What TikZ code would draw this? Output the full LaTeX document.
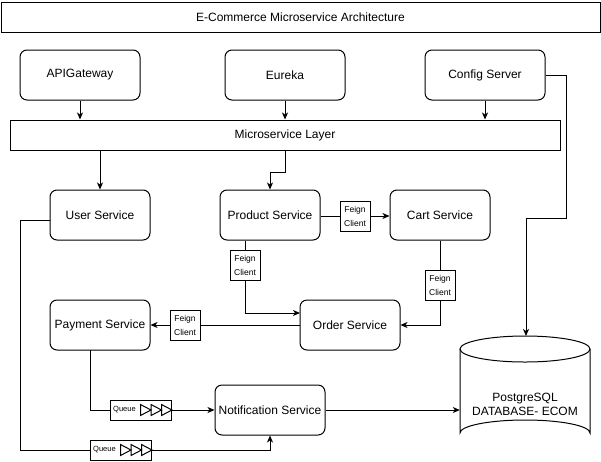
\documentclass[tikz,border=0pt]{standalone}
\usepackage{fontspec}
\setmainfont{Liberation Sans}
\usetikzlibrary{arrows.meta,calc}
\tikzset{
  base/.style={line width=1pt},
  svc/.style={base, draw, rounded corners=7pt, minimum width=100pt, minimum height=50pt, inner sep=0pt, font=\fontsize{12}{14}\selectfont},
  topsvc/.style={svc, minimum width=120pt},
  plainbox/.style={base, draw, inner sep=0pt, font=\fontsize{12}{14}\selectfont},
  fc/.style={base, draw, fill=white, minimum width=30pt, minimum height=30pt, inner sep=0pt, align=center, font=\fontsize{8.5}{14}\selectfont},
  qbox/.style={base, draw, fill=white, minimum width=61pt, minimum height=20pt, inner sep=0pt},
  qtext/.style={inner sep=0pt, anchor=west, font=\fontsize{7.5}{9}\selectfont},
  conn/.style={base},
  arr/.style={base, -{Stealth[length=7pt,width=6pt,inset=2pt]}},
}
\begin{document}
\begin{tikzpicture}[x=1pt,y=-1pt]
\useasboundingbox (0,0) rectangle (601,461);

% title and top row
\node[plainbox, minimum width=599pt, minimum height=30pt] (title) at (300.5,17) {E-Commerce Microservice Architecture};
\node[topsvc] (api) at (80,75) {APIGateway};
\node[topsvc] (eur) at (285,75) {Eureka};
\node[topsvc] (cfg) at (485,75) {Config Server};
\node[plainbox, minimum width=550pt, minimum height=30pt] (layer) at (285,135) {Microservice Layer};

% services
\node[svc] (user) at (100,215) {User Service};
\node[svc] (prod) at (270,215) {Product Service};
\node[svc] (cart) at (440,215) {Cart Service};
\node[svc] (pay) at (100,325) {Payment Service};
\node[svc] (order) at (350,325) {Order Service};
\node[svc, minimum width=110pt] (notif) at (270,410) {Notification Service};

% database
\node[minimum width=130pt, minimum height=110pt, inner sep=0pt] (db) at (525,391) {};
\draw[base] (460,349) -- (460,433) arc[start angle=180, end angle=360, x radius=65, y radius=13] -- (590,349);
\draw[base] (525,349) ellipse [x radius=65, y radius=13];
\node[align=center, inner sep=0pt, font=\fontsize{12}{14}\selectfont] (dbtext) at (525,404) {PostgreSQL\\DATABASE- ECOM};

% feign client labels
\node[fc] (fc1) at (355,216) {Feign\\Client};
\node[fc] (fc2) at (440,285) {Feign\\Client};
\node[fc] (fc3) at (245,265) {Feign\\Client};
\node[fc] (fc4) at (185,325) {Feign\\Client};

% queues
\node[qbox] (q1) at (141,410) {};
\node[qtext] (q1t) at ($(q1.west)+(3,0)$) {Queue};
\node[qbox] (q2) at (121,450) {};
\node[qtext] (q2t) at ($(q2.west)+(3,0)$) {Queue};
\foreach \q in {q1,q2}{
  \foreach \i in {0,1,2}{
    \draw[base, line join=miter] ($(\q.east)+(-31.5+\i*10.5,-5.5)$) -- ++(10.5,5.5) -- ++(-10.5,5.5) -- cycle;
  }
}

% top arrows
\draw[arr] (api.south) -- (api.south |- layer.north);
\draw[arr] (eur.south) -- (eur.south |- layer.north);
\draw[arr] (cfg.south) -- (cfg.south |- layer.north);

% config server to database
\coordinate (c1) at (566,75);
\coordinate (c2) at (566,218);
\coordinate (c3) at (526,218);
\coordinate (dbtop) at (526,336);
\draw[arr] (cfg.east) -- (c1) -- (c2) -- (c3) -- (dbtop);

% layer to services
\draw[arr] (user.north |- layer.south) -- (user.north);
\coordinate (j1) at (285,172);
\draw[arr] (eur.south |- layer.south) -- (j1) -| (prod.north);

% product -> cart
\draw[conn] (prod.east |- fc1.west) -- (fc1.west);
\draw[arr] (fc1.east) -- (cart.west |- fc1.east);

% cart -> order
\draw[conn] (cart.south) -- (fc2.north);
\draw[arr] (fc2.south) |- (order.east);

% product -> order
\draw[conn] (fc3.north |- prod.south) -- (fc3.north);
\coordinate (oin) at (300,313);
\draw[arr] (fc3.south) |- (oin);

% order -> payment
\draw[conn] (order.west) -- (fc4.east);
\draw[arr] (fc4.west) -- (pay.east);

% payment -> notification via queue
\coordinate (pb) at (90,350);
\draw[conn] (pb) |- (q1.west);
\draw[arr] (q1.east) -- (notif.west);

% user -> notification via queue
\coordinate (ul) at (50,220);
\coordinate (ul2) at (20,220);
\draw[conn] (ul) -- (ul2) |- (q2.west);
\draw[arr] (q2.east) -| (notif.south);

% notification -> database
\draw[arr] (notif.east) -- (db.west |- notif.east);
\end{tikzpicture}
\end{document}
